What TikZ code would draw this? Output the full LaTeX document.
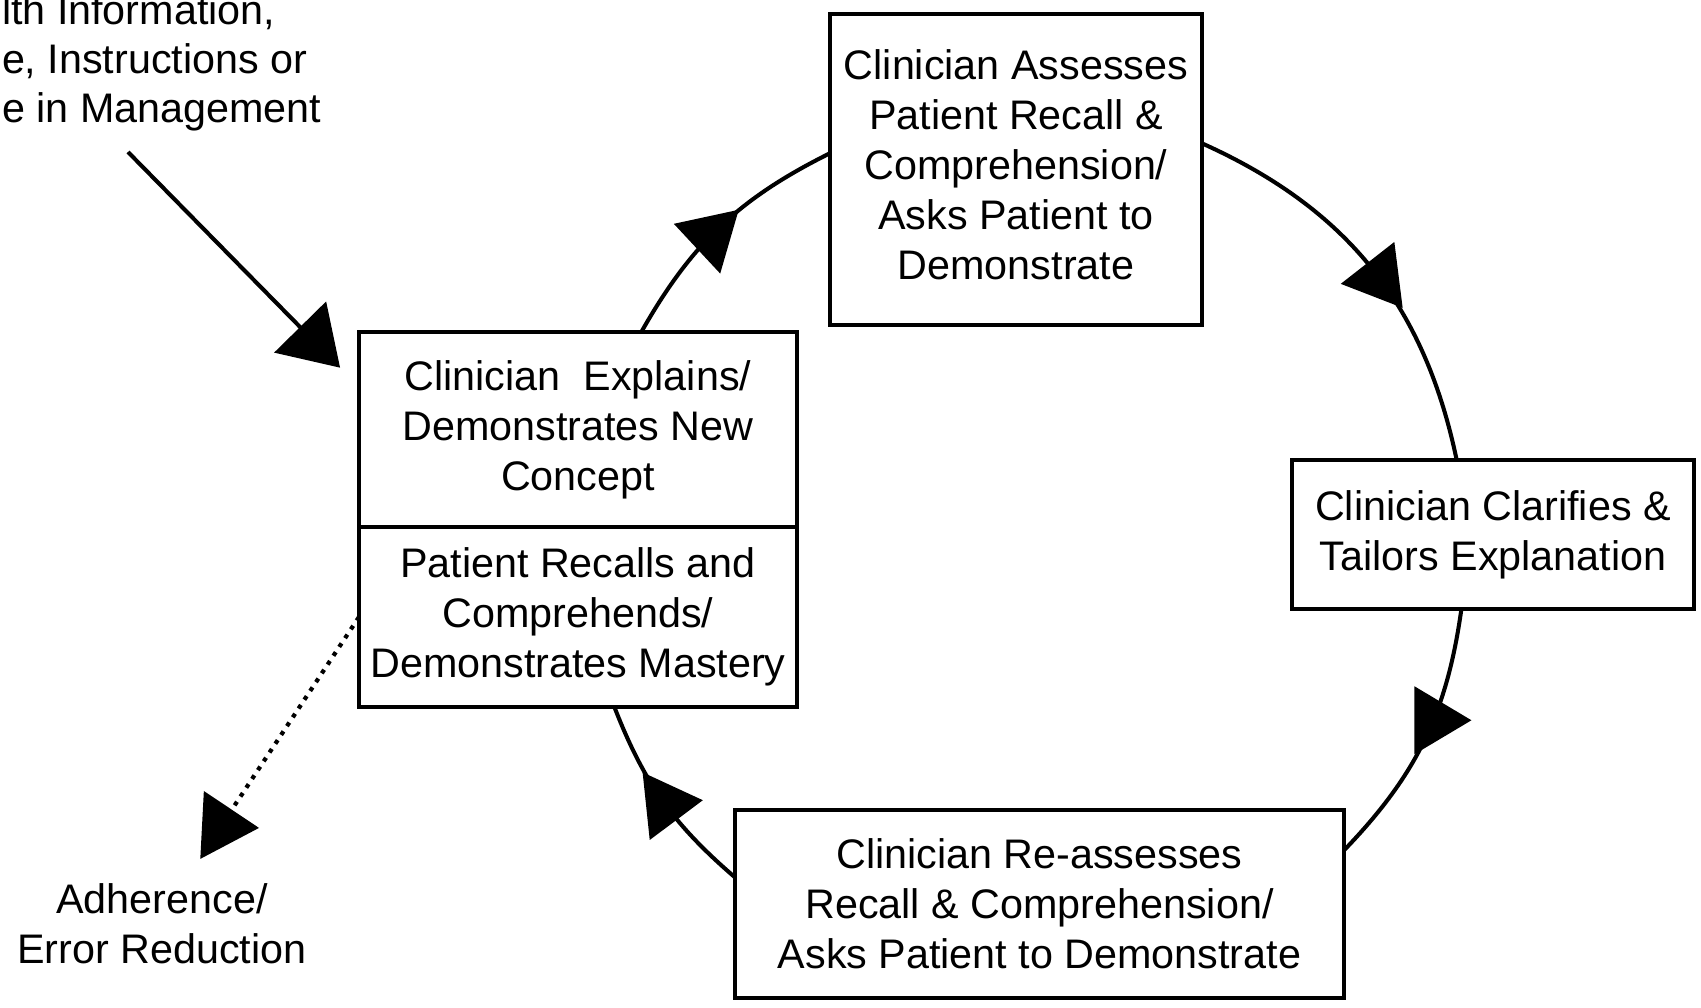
\documentclass[tikz,border=0pt]{standalone}
\usepackage{fontspec}
\setmainfont{Liberation Sans}
\usetikzlibrary{arrows.meta, positioning, decorations.markings}
\tikzset{
  every picture/.style={line width=1.15pt},
  stage/.style={draw, fill=white, align=center, inner sep=0pt, outer sep=0pt, font=\fontsize{11.75}{14.2}\selectfont},
  freetext/.style={align=center, inner sep=0pt, font=\fontsize{11.75}{14.2}\selectfont},
  head/.style 2 args={postaction={decorate, decoration={markings, mark=at position #1 with {\pgftransformresetnontranslations\pgftransformrotate{#2}\fill (0.38,0) -- (-0.19,0.34) -- (-0.19,-0.34) -- cycle;}}}},
  feed/.style={-{Triangle[length=0.57cm, width=0.72cm]}},
  outcome/.style={line width=1.2pt, dash pattern=on 1.2pt off 1.8pt},
}

\begin{document}
\begin{tikzpicture}
  \useasboundingbox (0,0) rectangle (17.01,-10.08);
  \clip (0,0) rectangle (17.01,-10.08);
  % the four stages of the loop
  \node[stage, minimum width=3.72cm, minimum height=3.11cm] (assess) at (10.16,-1.695) {Clinician Assesses\\Patient Recall \&\\Comprehension/\\Asks Patient to\\Demonstrate\rule[-0.1cm]{0pt}{0pt}};
  \node[stage, minimum width=4.38cm, minimum height=1.95cm] (explain) at (5.78,-4.295) {Clinician~~Explains/\\Demonstrates New\\Concept};
  \node[stage, minimum width=4.38cm, minimum height=1.8cm, below=0pt of explain] (recall) {Patient Recalls and\\Comprehends/\\Demonstrates Mastery};
  \node[stage, minimum width=4.02cm, minimum height=1.49cm] (clarify) at (14.93,-5.345) {Clinician Clarifies \&\\Tailors Explanation};
  \node[stage, minimum width=6.09cm, minimum height=1.88cm] (reassess) at (10.395,-9.04) {Clinician Re-assesses\\Recall \& Comprehension/\\Asks Patient to Demonstrate};
  % texts outside the loop
  \node[freetext, anchor=north west, align=left, font=\fontsize{11.75}{13.9}\selectfont] (source) at (0,0.07) {lth Information,\\e, Instructions or\\e in Management};
  \node[freetext] (adherence) at (1.62,-9.235) {Adherence/\\Error Reduction};
  % loop
  \draw[head={0.45}{43}] (explain.57) to[bend left=17] (assess.175);
  \draw[head={0.53}{-52}] (assess.8) to[bend left=27] (clarify.116);
  \draw[head={0.42}{0}] (clarify.247) to[bend left=18] (reassess.10);
  \draw[head={0.48}{6}] (reassess.175) to[bend left=14] (recall.292);
  % in and out
  \coordinate (feedstart) at (1.28,-1.52);
  \draw[feed, shorten >=0.27cm] (feedstart) -- (explain.169);
  \coordinate (adhtip) at (2.21,-8.26);
  \draw[outcome, head={1}{-3}] (recall.west) -- (adhtip);
\end{tikzpicture}
\end{document}
